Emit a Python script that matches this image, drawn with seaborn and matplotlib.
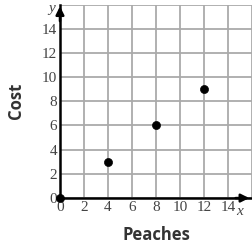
import matplotlib
matplotlib.use("Agg")
import matplotlib.pyplot as plt
import seaborn as sns
import pandas as pd

peaches = [0, 4, 8, 12]
cost = [0, 3, 6, 9]
ticks = [0, 2, 4, 6, 8, 10, 12, 14]

df = pd.DataFrame({"Peaches": peaches, "Cost": cost})

sns.set_style("white")
fig = plt.figure(figsize=(2.52, 2.52), dpi=100)
ax = fig.add_axes([0.238, 0.214, 0.762, 0.768])

sns.scatterplot(data=df, x="Peaches", y="Cost", ax=ax, color="black",
                s=34, edgecolor="black", zorder=5, clip_on=False)

ax.set_xlim(0, 15.8)
ax.set_ylim(0, 16)
ax.grid(True, color="#aaaaaa", linewidth=1.3)
ax.set_axisbelow(True)

for s in ["top", "right"]:
    ax.spines[s].set_visible(False)
for s in ["left", "bottom"]:
    ax.spines[s].set_linewidth(1.8)
    ax.spines[s].set_color("black")

ax.set_xticks(ticks + [16])
ax.set_xticklabels([str(t) for t in ticks] + [""], family="Liberation Serif",
                   fontsize=11, color="#444444")
ax.set_yticks(ticks + [16])
ax.set_yticklabels([str(t) for t in ticks] + [""], family="Liberation Serif",
                   fontsize=11, color="#444444")
ax.tick_params(length=0, pad=2)

# axis arrows
ax.annotate("", xy=(1.0, 0), xycoords="axes fraction", xytext=(0.9, 0),
            arrowprops=dict(arrowstyle="-|>", color="black", lw=1.8,
                            mutation_scale=12), annotation_clip=False)
ax.annotate("", xy=(0, 1.005), xycoords="axes fraction", xytext=(0, 0.9),
            arrowprops=dict(arrowstyle="-|>", color="black", lw=1.8,
                            mutation_scale=12), annotation_clip=False)
ax.text(15.0, -0.6, "x", family="Liberation Serif", style="italic", fontsize=11,
        color="#444444", ha="center", va="top")
ax.text(-0.4, 15.7, "y", family="Liberation Serif", style="italic", fontsize=11,
        color="#444444", ha="right", va="center")

ax.set_xlabel("Peaches", family="Open Sans", fontweight="bold", fontsize=12,
              color="#333333", labelpad=9)
ax.set_ylabel("Cost", family="Open Sans", fontweight="bold", fontsize=12,
              color="#333333", labelpad=12)

fig.savefig("out.png", dpi=100)
